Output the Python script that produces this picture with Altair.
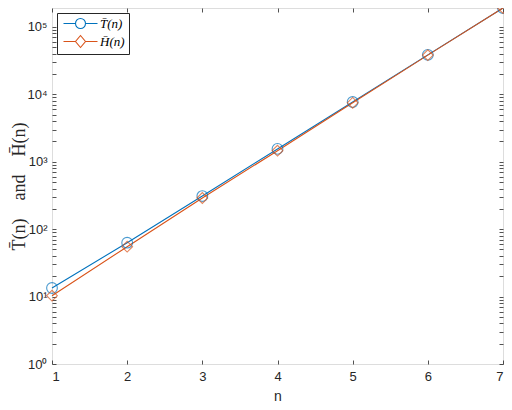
import altair as alt
import pandas as pd

# ---- data ----
n_values = [1, 2, 3, 4, 5, 6, 7]
t_values = [13.4, 63, 310, 1550, 7700, 38500, 191000]
h_values = [10.3, 55, 290, 1460, 7500, 38200, 191000]
series_names = ["T\u0304(n)", "H\u0304(n)"]
series_colors = ["#0072BD", "#D95319"]
y_major = [1, 10, 100, 1000, 10000, 100000]
y_max = 191000
y_ticks = [m * k for k in y_major for m in range(1, 10) if m * k <= y_max]
x_ticks = n_values
y_title = "T\u0304(n)\u2003and\u2003H\u0304(n)"

df = pd.DataFrame({
    "n": n_values * 2,
    "value": t_values + h_values,
    "series": [series_names[0]] * len(n_values) + [series_names[1]] * len(n_values),
})

AX = "#262626"
sans = "Liberation Sans"
serif = "Liberation Serif"
tick_in = {"expr": "-4"}

label_expr = (
    "abs(log(datum.value)/LN10 - round(log(datum.value)/LN10)) < 1e-6 ? "
    "'10' + ['\u2070','\u00b9','\u00b2','\u00b3','\u2074','\u2075','\u2076'][round(log(datum.value)/LN10)] : ''"
)

x_scale = alt.Scale(domain=[1, 7], nice=False, zero=False)
y_scale = alt.Scale(type="log", domain=[1, y_max], nice=False)

color_scale = alt.Scale(domain=series_names, range=series_colors)

PLOT_W, PLOT_H = 451, 356

base = alt.Chart(df)

lines = base.mark_line(strokeWidth=1.1).encode(
    x=alt.X("n:Q", scale=x_scale, axis=alt.Axis(
        orient="bottom", values=x_ticks, format="d", domain=False, grid=False,
        tickSize=tick_in, tickColor=AX, tickWidth=0.8,
        labelColor=AX, labelFont=sans, labelFontSize=13, labelPadding=10,
        title="n", titleFont=sans, titleFontSize=14, titleFontWeight="normal",
        titleColor=AX, titlePadding=6)),
    y=alt.Y("value:Q", scale=y_scale, axis=alt.Axis(
        orient="left", values=y_ticks, labelExpr=label_expr, labelOverlap=False,
        domain=False, grid=False, tickSize=tick_in, tickColor=AX, tickWidth=0.8,
        labelColor=AX, labelFont=sans, labelFontSize=13, labelPadding=9,
        title=y_title, titleFont=serif, titleFontSize=18,
        titleFontWeight="normal", titleColor=AX,
        titleX=-33, titleY=PLOT_H / 2, titleAngle=270,
        titleAlign="center", titleBaseline="middle")),
    color=alt.Color("series:N", scale=color_scale, legend=None),
    detail="series:N",
)

points = base.mark_point(filled=False, size=115, strokeWidth=1.1).encode(
    x=alt.X("n:Q", scale=x_scale, axis=alt.Axis(
        orient="top", values=x_ticks, labels=False, domain=False, grid=False,
        tickSize=tick_in, tickColor=AX, tickWidth=0.8, title=None)),
    y=alt.Y("value:Q", scale=y_scale, axis=alt.Axis(
        orient="right", values=y_ticks, labels=False, domain=False, grid=False,
        tickSize=tick_in, tickColor=AX, tickWidth=0.8, title=None)),
    color=alt.Color("series:N", scale=color_scale, legend=None),
    shape=alt.Shape("series:N", scale=alt.Scale(domain=series_names, range=["circle", "diamond"]), legend=None),
)

circle_path = "M-3.4,0L-1,0M1,0L3.4,0M1,0A1,1 0 1,1 -1,0A1,1 0 1,1 1,0Z"
diamond_path = "M-3.4,0L-1,0M1,0L3.4,0M0,-1.2L1,0L0,1.2L-1,0Z"


def make_legend():
    return alt.Legend(
        title=None, orient="top-left", offset=5, padding=4,
        strokeColor=AX, fillColor="white", symbolSize=100,
        symbolOffset=13, labelOffset=13, symbolStrokeWidth=1.1,
        labelFont=serif, labelFontStyle="italic", labelFontSize=13,
        labelColor="#000000", rowPadding=2)


legend_layer = base.mark_point(filled=False, opacity=0, strokeWidth=1.1).encode(
    x=alt.X("n:Q", scale=x_scale, axis=None),
    y=alt.Y("value:Q", scale=y_scale, axis=None),
    color=alt.Color("series:N", scale=color_scale, legend=make_legend()),
    shape=alt.Shape("series:N", scale=alt.Scale(domain=series_names, range=[circle_path, diamond_path]),
                    legend=make_legend()),
)

chart = alt.layer(lines, points, legend_layer).resolve_axis(
    x="independent", y="independent"
).resolve_scale(
    color="independent", shape="independent"
).properties(
    width=PLOT_W, height=PLOT_H,
    autosize=alt.AutoSizeParams(type="none"),
    padding={"left": 44, "top": 0, "right": 1, "bottom": 38},
).configure_view(
    stroke=AX, strokeWidth=1
).configure(background="white")

chart.save("out.html", embed_options={"renderer": "svg", "actions": False})
